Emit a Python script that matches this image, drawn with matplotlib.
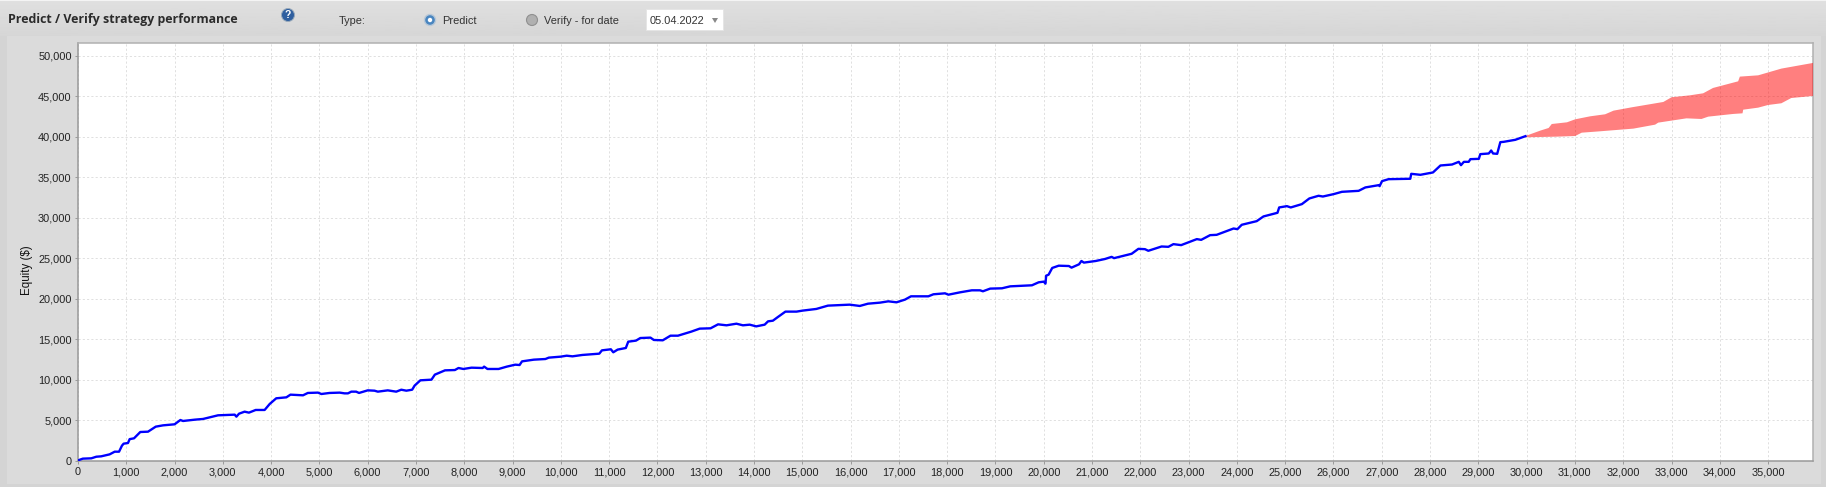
import numpy as np
import matplotlib
matplotlib.use("Agg")
import matplotlib.pyplot as plt
from matplotlib.patches import Rectangle, Circle, Polygon
from matplotlib.ticker import MultipleLocator, FuncFormatter

W, H = 1826, 487

title = "Predict / Verify strategy performance"
type_label = "Type:"
predict_label = "Predict"
verify_label = "Verify - for date"
date_label = "05.04.2022"
y_label = "Equity ($)"

equity_x = [0,100,275,380,480,655,760,850,910,945,1035,1070,1160,1290,1450,1610,1760,2000,2120,2175,2415,2590,2900,3245,3280,3335,3450,3540,3680,3865,3970,4105,4315,4400,4660,4760,4970,5040,5210,5420,5520,5590,5660,5760,5820,6000,6140,6210,6415,6590,6695,6800,6920,
 6970,7090,7320,7390,7600,7805,7880,7980,8150,8380,8410,8480,8710,8880,9055,9145,9195,9440,9680,9750,9995,10120,10240,10445,10795,10850,11035,11085,11175,11345,11395,11555,11645,11855,11925,12110,12270,12425,12700,12875,13100,13255,13430,13635,13770,13910,14045,14220,14290,14390,14495,14650,14880,15000,
 15290,15530,15980,16190,16360,16610,16780,16950,17125,17250,17610,17715,17955,18025,18265,18510,18680,18740,18890,19135,19305,19755,19895,20000,20035,20050,20100,20175,20310,20520,20575,20730,20780,20830,21075,21270,
 21405,21455,21820,21960,22095,22165,22440,22580,22685,22845,23170,23260,23445,23580,23930,24010,24100,24410,24550,24840,24875,25035,25115,25345,25500,25690,25780,26000,26175,26520,26660,26935,26955,27005,27140,27590,27610,27800,28060,28215,28455,28595,28640,28700,28800,28835,29010,29040,29215,29265,29305,29390,29455,29525,29765,29975]
equity_y = [80,290,330,530,575,820,1150,1150,1890,2140,2220,2700,2800,3580,3620,4240,4400,4530,5060,4940,5100,5190,5640,5720,5470,5840,6090,5970,6300,6300,7040,7740,7860,8190,8110,8400,8440,8270,8400,8440,8350,8350,8560,8560,8400,8720,8680,8560,8720,8560,8800,8680,8800,
 9300,9960,10040,10660,11190,11230,11480,11360,11520,11480,11650,11360,11360,11650,11890,11850,12300,12510,12590,12760,12880,13000,12920,13090,13250,13660,13790,13420,13750,13950,14730,14860,15180,15230,14940,14900,15470,15470,15970,16340,16380,16870,16750,16950,16750,16830,16620,16830,17240,17320,17780,18440,18440,18560,
 18770,19180,19300,19140,19420,19550,19710,19590,19920,20330,20330,20580,20700,20530,20820,21070,21070,20950,21280,21320,21560,21690,22060,22140,21890,22880,23000,23830,24110,24070,23870,24280,24690,24490,24690,24940,
 25200,25040,25580,26190,26150,25950,26480,26440,26770,26650,27390,27300,27880,27920,28700,28620,29160,29610,30190,30640,31300,31460,31300,31710,32410,32740,32650,32940,33230,33350,33770,34050,33930,34550,34790,34840,35450,35330,35620,36480,36600,36930,36520,36930,36930,37260,37300,37880,37960,38330,37960,37920,39360,39400,39650,40100]

upper_x = [29975,30280,30455,30520,30835,31005,31315,31625,31800,32175,32830,33000,33380,33655,33860,34380,34415,34795,35275,35930]
upper_y = [40120,40780,41110,41600,41810,42180,42550,42800,43250,43660,44320,44900,45140,45390,46050,46870,47450,47610,48440,49140]
lower_x = [29975,30625,31005,31140,31520,32210,32660,32725,33310,33620,33760,34275,34470,34485,34795,35000,35275,35480,35930]
lower_y = [39960,40040,40120,40530,40700,41030,41520,41770,42300,42220,42510,42840,42920,43370,43620,43950,44160,44810,45060]

plt.rcParams["font.family"] = ["Liberation Sans", "DejaVu Sans"]
fig = plt.figure(figsize=(W / 100, H / 100), dpi=100, facecolor="#dbdbdb")

# page chrome, in pixel coordinates
bg = fig.add_axes([0, 0, 1, 1], zorder=0)
bg.set_xlim(0, W)
bg.set_ylim(H, 0)
bg.axis("off")
bg.add_patch(Rectangle((0, 0), W, 1, fc="#f4f4f4", ec="none"))
grad = np.linspace(0.875, 0.84, 34).reshape(-1, 1)
bg.imshow(grad, extent=(0, W, 36, 1), cmap="gray", vmin=0, vmax=1, aspect="auto", zorder=1)
bg.set_xlim(0, W)
bg.set_ylim(H, 0)
bg.add_patch(Rectangle((0, 36), 7, H - 36, fc="#d4d4d4", ec="none", zorder=1))
bg.add_patch(Rectangle((1821, 36), 5, H - 36, fc="#d4d4d4", ec="none", zorder=1))
bg.add_patch(Rectangle((7, 484), 1814, 3, fc="#d4d4d4", ec="none", zorder=1))

bg.text(8, 20, title, family="Open Sans", weight="bold", fontsize=8.9, color="#2b2b2b", va="center", zorder=3)
bg.add_patch(Circle((288, 15), 6.5, fc="#2f5f9f", ec="#9ab", lw=0.7, zorder=3))
bg.text(288, 15.3, "?", color="white", weight="bold", fontsize=7.5, ha="center", va="center", zorder=4)
small = dict(fontsize=7.9, color="#333333", va="center", zorder=3)
bg.text(339, 20.5, type_label, **small)
bg.add_patch(Circle((430, 20), 5.5, fc="#4a86c0", ec="#b8c8d8", lw=1, zorder=3))
bg.add_patch(Circle((430, 20), 2.2, fc="white", ec="none", zorder=4))
bg.text(442, 20.5, predict_label, **small)
bg.add_patch(Circle((532, 20), 5.5, fc="#b0b0b0", ec="#909090", lw=0.8, zorder=3))
bg.text(544, 20.5, verify_label, **small)
bg.add_patch(Rectangle((646, 9), 77, 21, fc="white", ec="#e4e4e4", lw=0.6, zorder=3))
bg.text(650, 20.5, date_label, **small)
bg.add_patch(Polygon([(712, 18), (718, 18), (715, 23)], fc="#888888", ec="none", zorder=4))

# chart
left, right, top, bottom = 78, 1813, 43, 461
ax = fig.add_axes([left / W, 1 - bottom / H, (right - left) / W, (bottom - top) / H], zorder=2)
ax.set_facecolor("white")
ax.set_xlim(0, 35930)
ax.set_ylim(0, 51600)
ax.xaxis.set_major_locator(MultipleLocator(1000))
ax.yaxis.set_major_locator(MultipleLocator(5000))
fmt = FuncFormatter(lambda v, _: f"{int(v):,}")
ax.xaxis.set_major_formatter(fmt)
ax.yaxis.set_major_formatter(fmt)
ax.grid(True, color="#e0e0e0", lw=0.7, ls=(0, (2.2, 2.2)), zorder=0)
ax.set_axisbelow(True)
ax.tick_params(axis="both", length=2, width=0.7, color="#999999", labelsize=7.9, labelcolor="#222222", pad=2.5)
for name, c in dict(left="#999999", bottom="#999999", top="#b0b0b0", right="#b0b0b0").items():
    ax.spines[name].set_color(c)
    ax.spines[name].set_linewidth(1.1)

ax.fill(upper_x + lower_x[::-1], upper_y + lower_y[::-1], color=(1, 0, 0, 0.5), lw=0, zorder=3)
ax.plot(equity_x, equity_y, color="#0000ff", lw=1.7, solid_joinstyle="round", zorder=4)

bg.text(27, 270, y_label, rotation=90, fontsize=8.3, color="#111111", ha="center", va="center", zorder=3)

fig.savefig("out.png", dpi=100, facecolor=fig.get_facecolor())
